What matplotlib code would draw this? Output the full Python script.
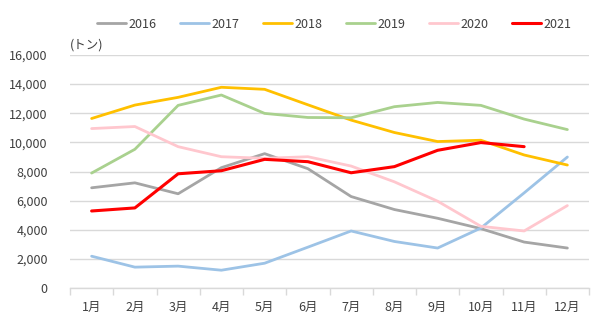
import matplotlib
matplotlib.use("Agg")
import matplotlib.pyplot as plt
from matplotlib.ticker import FuncFormatter, FixedLocator

plt.rcParams['font.family'] = ['Noto Sans CJK JP', 'DejaVu Sans']

months = ["1月", "2月", "3月", "4月", "5月", "6月", "7月", "8月", "9月", "10月", "11月", "12月"]

y2016 = [6890, 7230, 6480, 8270, 9230, 8200, 6290, 5400, 4800, 4090, 3170, 2760]
y2017 = [2200, 1450, 1520, 1240, 1720, 2820, 3930, 3210, 2760, 4130, 6540, 9000]
y2018 = [11640, 12560, 13090, 13780, 13640, 12580, 11530, 10680, 10060, 10150, 9140, 8450]
y2019 = [7900, 9530, 12540, 13250, 11990, 11710, 11690, 12450, 12740, 12540, 11600, 10880]
y2020 = [10950, 11090, 9710, 9020, 8910, 9020, 8380, 7300, 5970, 4250, 3930, 5670]
y2021 = [5300, 5510, 7850, 8060, 8840, 8680, 7920, 8340, 9460, 9990, 9710]

series = [
    ("2016", y2016, "#a5a5a5", 2.0),
    ("2017", y2017, "#9dc3e6", 2.0),
    ("2018", y2018, "#ffc000", 2.0),
    ("2019", y2019, "#a9d18e", 2.0),
    ("2020", y2020, "#ffc7ce", 2.0),
    ("2021", y2021, "#ff0000", 2.2),
]

fig = plt.figure(figsize=(6.11, 3.25), dpi=100)
ax = fig.add_axes([70 / 611, 1 - 288.3 / 325, 519 / 611, (288.3 - 54.9) / 325])

for name, vals, color, lw in series:
    ax.plot(range(len(vals)), vals, color=color, lw=lw, label=name,
            solid_capstyle="round", solid_joinstyle="round")

ax.set_xlim(-0.5, 11.5)
ax.set_ylim(0, 16000)
ax.set_yticks(range(0, 16001, 2000))
ax.yaxis.set_major_formatter(FuncFormatter(lambda v, p: f"{int(v):,}"))
ax.set_xticks(range(12))
ax.set_xticklabels(months)
ax.xaxis.set_minor_locator(FixedLocator([i - 0.5 for i in range(13)]))

ax.grid(axis="y", color="#d9d9d9", lw=1.0)
ax.set_axisbelow(True)
for s in ["top", "right", "left"]:
    ax.spines[s].set_visible(False)
ax.spines["bottom"].set_color("#d9d9d9")
ax.spines["bottom"].set_linewidth(1.0)

ax.tick_params(axis="y", length=0, pad=16, labelsize=9, labelcolor="#404040")
ax.tick_params(axis="x", which="major", length=0, pad=9, labelsize=9, labelcolor="#404040")
ax.tick_params(axis="x", which="minor", length=5, color="#d9d9d9", width=1.0)

fig.text(70 / 611, 1 - 45 / 325, "(トン)", fontsize=9, color="#404040",
         va="center", ha="left")

fig.legend(loc="center", bbox_to_anchor=(334 / 611, 1 - 24 / 325), ncol=6, frameon=False,
           fontsize=9, handlelength=2.3, handletextpad=0.2, columnspacing=1.9,
           labelcolor="#404040")

fig.savefig("out.png", dpi=100)
